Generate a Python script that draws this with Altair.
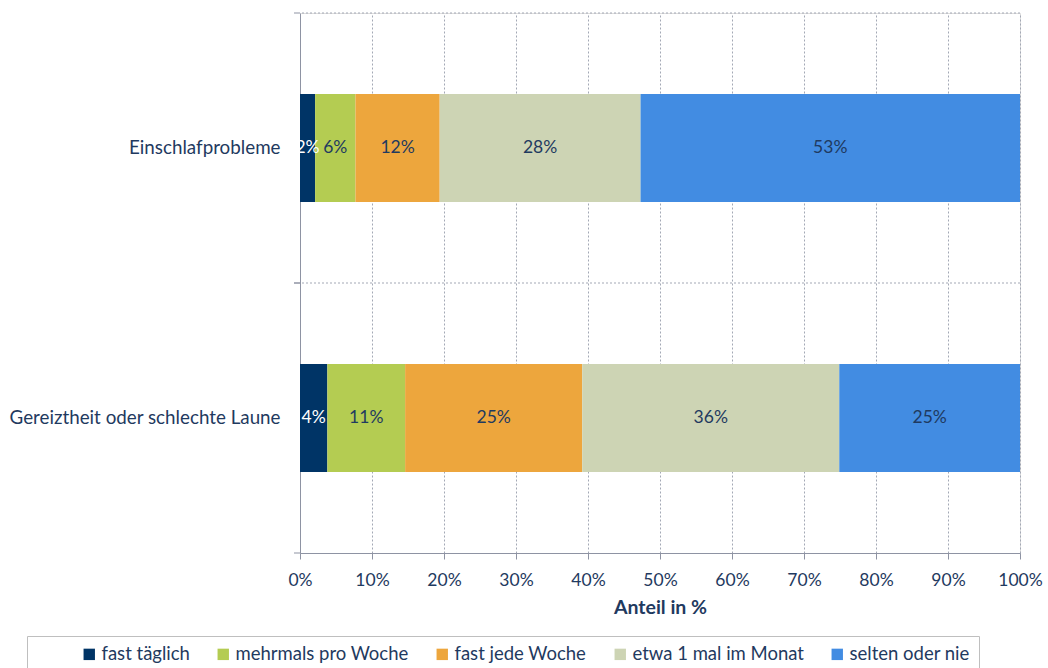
import altair as alt
import pandas as pd

categories = ["Einschlafprobleme", "Gereiztheit oder schlechte Laune"]
levels = ["fast täglich", "mehrmals pro Woche", "fast jede Woche", "etwa 1 mal im Monat", "selten oder nie"]
einschlaf = [2.1, 5.6, 11.7, 27.9, 52.7]
gereizt = [3.8, 10.8, 24.6, 35.7, 25.1]
colors = ["#003466", "#B4CC52", "#EDA63D", "#CDD4B4", "#428CE2"]
x_ticks = list(range(0, 101, 10))

rows = []
for cat, vals in zip(categories, [einschlaf, gereizt]):
    for i, (lvl, v) in enumerate(zip(levels, vals)):
        rows.append({"item": cat, "level": lvl, "value": v, "ord": i,
                     "label": f"{round(v)}%"})
df = pd.DataFrame(rows)
cat_df = pd.DataFrame({"item": categories})

FONT = "Lato"
NAVY = "#1F3A60"
GRID = "#A3A8B5"
AXIS = "#8E93A3"

yscale = alt.Scale(domain=categories, paddingInner=0, paddingOuter=0)

hgrid = alt.Chart(cat_df).mark_rule(color=GRID, strokeDash=[2, 2], strokeWidth=1).encode(
    y=alt.Y("item:N", bandPosition=0, scale=yscale, sort=categories)
)
ticks_top = alt.Chart(cat_df).mark_rule(color=AXIS, strokeWidth=1).encode(
    y=alt.Y("item:N", bandPosition=0, scale=yscale, sort=categories),
    x=alt.value(-6), x2=alt.value(0)
)
ticks_bot = alt.Chart(cat_df).mark_rule(color=AXIS, strokeWidth=1).encode(
    y=alt.Y("item:N", bandPosition=1, scale=yscale, sort=categories),
    x=alt.value(-6), x2=alt.value(0)
)

bars = alt.Chart(df).mark_bar(height={"band": 0.4}).encode(
    x=alt.X("value:Q", stack="zero",
            scale=alt.Scale(domain=[0, 100], nice=False),
            axis=alt.Axis(values=x_ticks, labelExpr="datum.value + '%'",
                          grid=True, gridColor=GRID, gridDash=[2, 2],
                          domainColor=AXIS, tickColor=AXIS, tickSize=6,
                          labelFontSize=17.5, labelFont=FONT, labelColor=NAVY,
                          labelPadding=12, labelFlush=False,
                          title="Anteil in %", titleFont=FONT, titleFontSize=19.5,
                          titleFontWeight="bold", titleColor=NAVY, titlePadding=10)),
    y=alt.Y("item:N", scale=yscale, sort=categories,
            axis=alt.Axis(title=None, ticks=False, grid=False, domainColor=AXIS,
                          labelFontSize=18.8, labelFont=FONT, labelColor=NAVY,
                          labelPadding=20, labelLimit=500)),
    color=alt.Color("level:N", scale=alt.Scale(domain=levels, range=colors),
                    legend=alt.Legend(orient="none", legendX=-273, legendY=623,
                                      direction="horizontal", columns=5,
                                      title="\u00a0", titleOrient="left", titlePadding=44,
                                      titleFontSize=10,
                                      symbolType="square", symbolSize=130,
                                      symbolStrokeWidth=0, symbolOpacity=1,
                                      labelFont=FONT, labelFontSize=18.5, labelColor=NAVY,
                                      labelOffset=3, labelLimit=400, columnPadding=24,
                                      strokeColor="#BFBFBF", padding=9)),
    order=alt.Order("ord:Q"),
)

labels = alt.Chart(df).transform_stack(
    stack="value", groupby=["item"], as_=["x0", "x1"],
    sort=[alt.SortField("ord", order="ascending")]
).transform_calculate(
    mid="(datum.x0 + datum.x1) / 2"
).mark_text(font=FONT, fontSize=17.5).encode(
    x=alt.X("mid:Q"),
    y=alt.Y("item:N", scale=yscale, sort=categories),
    text="label:N",
    color=alt.condition(alt.datum.ord == 0, alt.value("white"), alt.value(NAVY)),
)

chart = alt.layer(hgrid, bars, labels, ticks_top, ticks_bot).properties(
    width=720, height=540,
    autosize=alt.AutoSizeParams(type="none"),
    padding={"left": 300, "top": 13, "right": 28, "bottom": 115},
).configure_view(stroke=None).configure(background="white")

chart.save("out.html", embed_options={"renderer": "svg", "actions": False})
